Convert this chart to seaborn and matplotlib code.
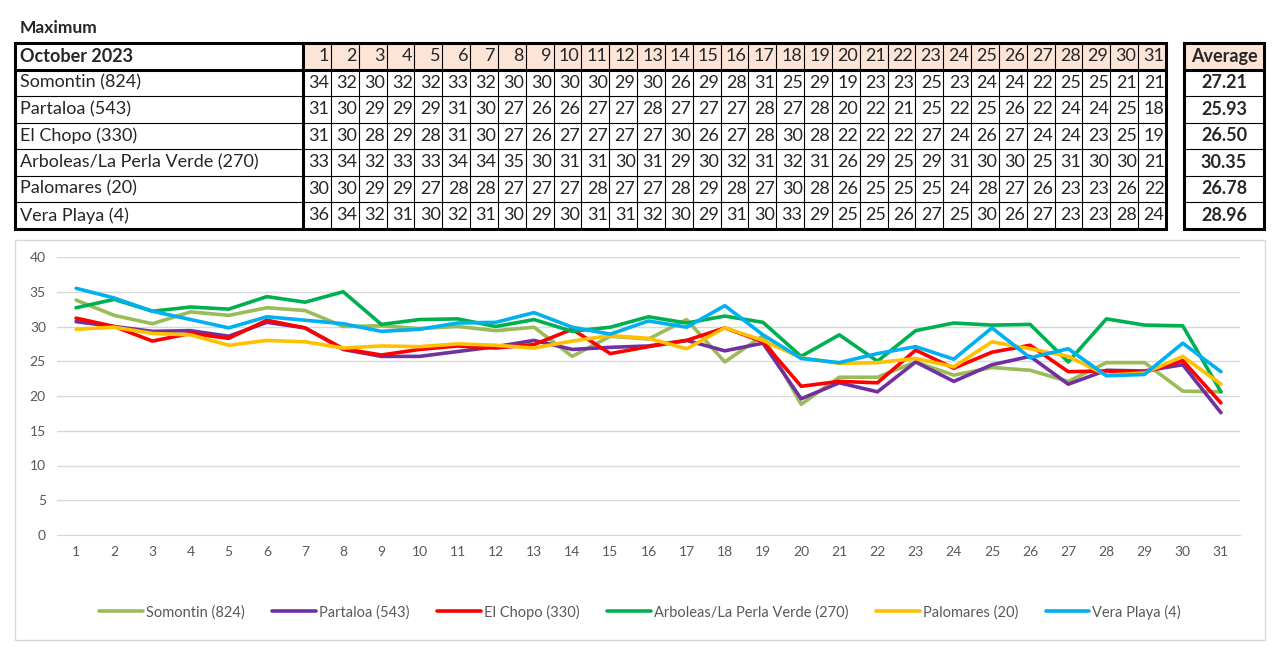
import numpy as np
import pandas as pd
import matplotlib
matplotlib.use("Agg")
import matplotlib.pyplot as plt
from matplotlib.patches import Rectangle
import seaborn as sns

# ---- data ----
days = list(range(1, 32))
stations = ["Somontin (824)", "Partaloa (543)", "El Chopo (330)",
            "Arboleas/La Perla Verde (270)", "Palomares (20)", "Vera Playa (4)"]
colours = ["#9BBB59", "#7030A0", "#FF0000", "#00B050", "#FFC000", "#00B0F0"]

# rounded values shown in the table
tbl_somontin = [34, 32, 30, 32, 32, 33, 32, 30, 30, 30, 30, 29, 30, 26, 29, 28, 31, 25, 29, 19, 23, 23, 25, 23, 24, 24, 22, 25, 25, 21, 21]
tbl_partaloa = [31, 30, 29, 29, 29, 31, 30, 27, 26, 26, 27, 27, 28, 27, 27, 27, 28, 27, 28, 20, 22, 21, 25, 22, 25, 26, 22, 24, 24, 25, 18]
tbl_chopo = [31, 30, 28, 29, 28, 31, 30, 27, 26, 27, 27, 27, 27, 30, 26, 27, 28, 30, 28, 22, 22, 22, 27, 24, 26, 27, 24, 24, 23, 25, 19]
tbl_arboleas = [33, 34, 32, 33, 33, 34, 34, 35, 30, 31, 31, 30, 31, 29, 30, 32, 31, 32, 31, 26, 29, 25, 29, 31, 30, 30, 25, 31, 30, 30, 21]
tbl_palomares = [30, 30, 29, 29, 27, 28, 28, 27, 27, 27, 28, 27, 27, 28, 29, 28, 27, 30, 28, 26, 25, 25, 25, 24, 28, 27, 26, 23, 23, 26, 22]
tbl_vera = [36, 34, 32, 31, 30, 32, 31, 30, 29, 30, 31, 31, 32, 30, 29, 31, 30, 33, 29, 25, 25, 26, 27, 25, 30, 26, 27, 23, 23, 28, 24]
averages = ["27.21", "25.93", "26.50", "30.35", "26.78", "28.96"]

# unrounded values
somontin = [33.8, 31.6, 30.4, 32.1, 31.6, 32.7, 32.3, 30.0, 30.1, 29.7, 30.0, 29.4, 29.9, 25.7, 28.6, 28.2, 31.0, 24.9, 28.7, 18.8, 22.7, 22.7, 24.9, 23.0, 24.1, 23.7, 22.1, 24.8, 24.8, 20.7, 20.6]
partaloa = [30.7, 30.0, 29.3, 29.4, 28.6, 30.6, 29.8, 26.7, 25.7, 25.7, 26.4, 27.1, 28.0, 26.7, 27.0, 27.2, 28.0, 26.5, 27.6, 19.6, 21.9, 20.6, 24.9, 22.1, 24.5, 25.7, 21.7, 23.7, 23.6, 24.5, 17.6]
chopo = [31.2, 30.0, 27.9, 29.0, 28.3, 30.9, 29.8, 26.8, 25.9, 26.7, 27.2, 26.9, 27.4, 29.6, 26.1, 27.1, 28.0, 29.8, 27.8, 21.4, 22.1, 21.9, 26.6, 24.0, 26.3, 27.3, 23.5, 23.6, 23.4, 25.1, 19.0]
arboleas = [32.7, 33.9, 32.2, 32.8, 32.5, 34.3, 33.5, 35.0, 30.3, 31.0, 31.1, 30.0, 31.0, 29.3, 29.9, 31.4, 30.5, 31.5, 30.6, 25.7, 28.8, 25.0, 29.4, 30.5, 30.2, 30.3, 24.9, 31.1, 30.2, 30.1, 20.6]
palomares = [29.6, 29.9, 29.0, 28.8, 27.3, 28.0, 27.8, 26.9, 27.2, 27.1, 27.5, 27.3, 26.9, 27.9, 28.7, 28.3, 26.8, 29.8, 28.0, 25.5, 24.7, 24.8, 25.4, 24.2, 27.8, 26.8, 25.7, 23.0, 23.3, 25.7, 21.7]
vera = [35.5, 34.1, 32.2, 31.0, 29.8, 31.4, 30.9, 30.4, 29.3, 29.6, 30.5, 30.6, 32.0, 29.9, 28.9, 30.8, 29.9, 33.0, 28.8, 25.4, 24.8, 26.1, 27.1, 25.3, 29.8, 25.5, 26.8, 22.9, 23.1, 27.6, 23.5]

table_rows = [tbl_somontin, tbl_partaloa, tbl_chopo, tbl_arboleas, tbl_palomares, tbl_vera]
series = [somontin, partaloa, chopo, arboleas, palomares, vera]

df = pd.DataFrame({
    "day": days * len(stations),
    "station": [s for s in stations for _ in days],
    "value": [v for ser in series for v in ser],
})

sns.set_style("white")
plt.rcParams["font.family"] = ["Lato", "DejaVu Sans"]

W, H = 1280, 665
fig = plt.figure(figsize=(12.8, 6.65), dpi=100)

# overlay axes in pixel coordinates for the table and the chart frame
ov = fig.add_axes([0, 0, 1, 1])
ov.set_xlim(0, W)
ov.set_ylim(H, 0)
ov.axis("off")

ov.text(20, 28, "Maximum", fontsize=12.5, fontweight="bold", va="center", ha="left")

peach = "#FCE4D6"
top, row_h = 43, 26.5
lab_l, lab_r = 15, 303
day_w = (1166 - lab_r) / 31
avg_l, avg_r = 1184, 1264
n_rows = len(stations) + 1
bottom = top + row_h * n_rows
fs = 13

# header
ov.add_patch(Rectangle((lab_r, top), 31 * day_w, row_h, facecolor=peach, edgecolor="none"))
ov.add_patch(Rectangle((avg_l, top), avg_r - avg_l, row_h, facecolor=peach, edgecolor="none"))
ov.text(lab_l + 5, top + row_h / 2, "October 2023", fontsize=fs, fontweight="bold", va="center")
for j, d in enumerate(days):
    ov.text(lab_r + (j + 1) * day_w - 2, top + row_h / 2, str(d), fontsize=fs, ha="right", va="center")
ov.text((avg_l + avg_r) / 2, top + row_h / 2, "Average", fontsize=fs, fontweight="bold", ha="center", va="center")

for i, (name, vals, avg) in enumerate(zip(stations, table_rows, averages)):
    yc = top + row_h * (i + 1.5)
    ov.text(lab_l + 5, yc, name, fontsize=fs, va="center")
    for j, v in enumerate(vals):
        ov.text(lab_r + (j + 1) * day_w - 1.5, yc, str(v), fontsize=fs, ha="right", va="center")
    ov.text((avg_l + avg_r) / 2, yc, avg, fontsize=fs, fontweight="bold", ha="center", va="center")

# thin grid lines
for i in range(1, n_rows):
    y = top + row_h * i
    ov.plot([lab_l, 1166], [y, y], color="black", lw=0.8)
    ov.plot([avg_l, avg_r], [y, y], color="black", lw=0.8)
for j in range(1, 31):
    x = lab_r + j * day_w
    ov.plot([x, x], [top, bottom], color="black", lw=0.8)

# thick borders
for l, r in [(lab_l, 1166), (avg_l, avg_r)]:
    ov.add_patch(Rectangle((l, top), r - l, bottom - top, fill=False, edgecolor="black", lw=2.2))
    ov.plot([l, r], [top + row_h, top + row_h], color="black", lw=2.2)
ov.plot([lab_r, lab_r], [top, bottom], color="black", lw=2.2)

# chart frame
ov.add_patch(Rectangle((15, 240), 1250, 400, fill=False, edgecolor="#D9D9D9", lw=1))

# ---- line chart ----
ax = fig.add_axes([57 / W, (H - 535) / H, (1240 - 57) / W, (535 - 257) / H])
sns.lineplot(data=df, x="day", y="value", hue="station", hue_order=stations,
             palette=colours, linewidth=2.6, ax=ax)
ax.set_xlim(0.5, 31.5)
ax.set_ylim(0, 40)
ax.set_xticks(days)
ax.set_yticks(range(0, 41, 5))
ax.grid(axis="y", color="#D9D9D9", lw=1)
ax.set_axisbelow(True)
for s in ["top", "left", "right"]:
    ax.spines[s].set_visible(False)
ax.spines["bottom"].set_color("#D9D9D9")
ax.tick_params(axis="both", length=0, labelsize=10, colors="#595959", pad=8)
ax.set_xlabel("")
ax.set_ylabel("")

handles, labels = ax.get_legend_handles_labels()
ax.get_legend().remove()
leg = fig.legend(handles, labels, loc="center", bbox_to_anchor=(0.5, (H - 612) / H), ncol=6,
                 frameon=False, fontsize=10.5, handlelength=3.0, handletextpad=0.2,
                 columnspacing=1.9, labelcolor="#595959")
for h in leg.get_lines():
    h.set_linewidth(2.6)

fig.savefig("out.png", dpi=100)
